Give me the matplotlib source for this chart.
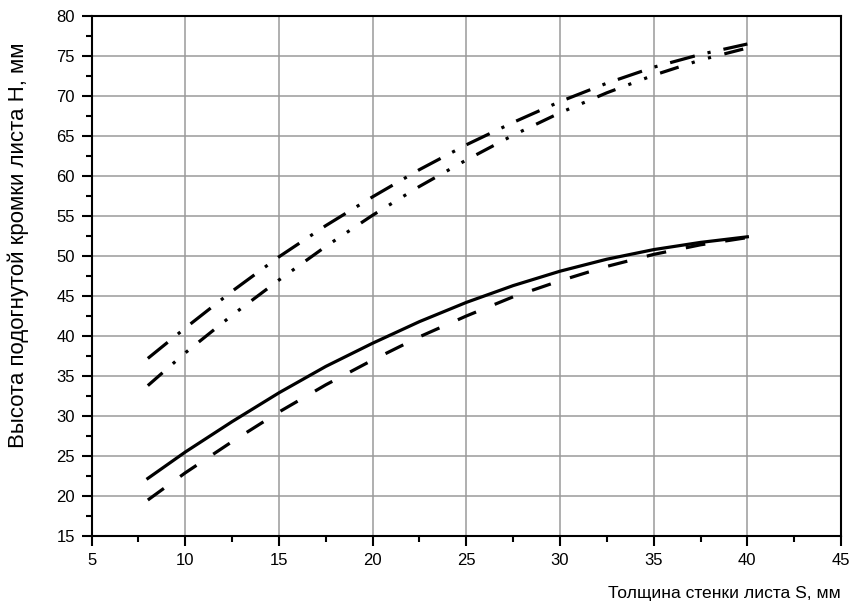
import matplotlib.pyplot as plt
from matplotlib.ticker import MultipleLocator

# wall thickness S, mm
s_mm = [8, 10, 12.5, 15, 17.5, 20, 22.5, 25, 27.5, 30, 32.5, 35, 37.5, 40]

# bent edge height H, mm
h_solid = [22.2, 25.5, 29.3, 32.9, 36.2, 39.1, 41.8, 44.2, 46.3, 48.1,
           49.6, 50.8, 51.7, 52.4]
h_dashed = [19.5, 22.9, 26.8, 30.5, 33.9, 37.0, 39.9, 42.5, 44.9, 46.9,
            48.7, 50.2, 51.4, 52.3]
h_dashdot = [37.2, 41.0, 45.6, 49.9, 53.8, 57.4, 60.8, 63.9, 66.7, 69.3,
             71.6, 73.6, 75.2, 76.5]
h_dashdotdot = [33.8, 37.9, 42.6, 47.0, 51.2, 55.1, 58.7, 62.0, 65.1, 67.9,
                70.4, 72.6, 74.5, 76.0]

xticks = [5, 10, 15, 20, 25, 30, 35, 40, 45]
yticks = [15, 20, 25, 30, 35, 40, 45, 50, 55, 60, 65, 70, 75, 80]

plt.rcParams['font.family'] = ['Liberation Sans', 'DejaVu Sans']

fig = plt.figure(figsize=(8.54, 6.13), dpi=100)
ax = fig.add_axes([0.1073, 0.1256, 0.8775, 0.8483])

lw = 2.3
ax.plot(s_mm, h_solid, color='black', lw=lw, linestyle='-', zorder=3)
ax.plot(s_mm, h_dashed, color='black', lw=lw, linestyle=(0, (6.2, 6.3)), zorder=3)
ax.plot(s_mm, h_dashdot, color='black', lw=lw,
        linestyle=(0, (8.0, 4.1, 1.0, 4.1)), zorder=3)
ax.plot(s_mm, h_dashdotdot, color='black', lw=lw,
        linestyle=(0, (6.1, 4.3, 1.0, 4.3, 1.0, 4.3)), zorder=3)

ax.set_xlim(5, 45)
ax.set_ylim(15, 80)
ax.set_xticks(xticks)
ax.set_yticks(yticks)
ax.xaxis.set_minor_locator(MultipleLocator(2.5))
ax.yaxis.set_minor_locator(MultipleLocator(2.5))

ax.grid(True, which='major', color='#9a9a9a', lw=1.1, zorder=0)
ax.tick_params(which='major', direction='out', length=7.5, width=1.5, pad=4.5,
               labelsize=12, top=False, right=False)
ax.tick_params(which='minor', direction='out', length=4, width=1.5,
               top=False, right=False)
for side in ax.spines.values():
    side.set_linewidth(1.5)

ax.set_xlabel('Толщина стенки листа S, мм', fontsize=12.6, ha='right')
ax.xaxis.set_label_coords(1.0, -0.097)
ax.set_ylabel('Высота подогнутой кромки листа Н, мм', fontsize=16)
ax.yaxis.set_label_coords(-0.083, 0.56)

fig.savefig('out.png', dpi=100)
